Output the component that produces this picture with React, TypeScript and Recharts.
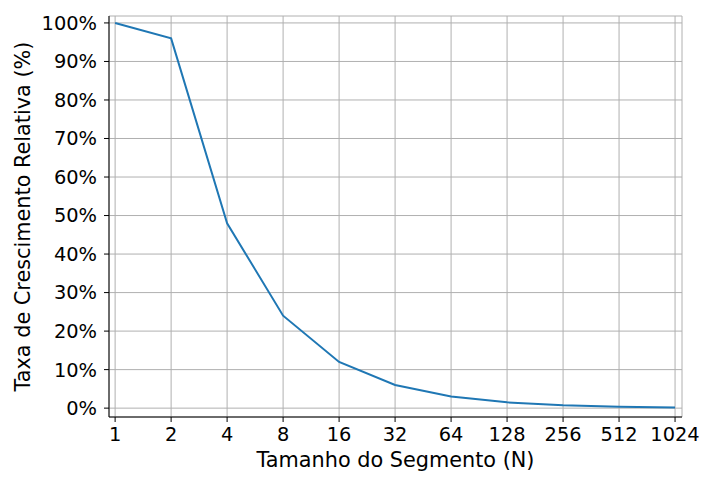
import { LineChart, Line, XAxis, YAxis, CartesianGrid } from "recharts";

// segment sizes (N) and relative growth rate in %
const sizes = [1, 2, 4, 8, 16, 32, 64, 128, 256, 512, 1024];
const growth = [100, 96, 48, 24, 12, 6, 3, 1.5, 0.75, 0.375, 0.19];
const yTicks = [0, 10, 20, 30, 40, 50, 60, 70, 80, 90, 100];

const FONT = "'DejaVu Sans', sans-serif";
const tickStyle = { fontSize: 19.4, fill: "#000", fontFamily: FONT };

const data = sizes.map((n, i) => ({ n, value: growth[i] }));

const XLabel = (props: any) => {
  const vb = props.viewBox;
  return (
    <text x={vb.x + vb.width / 2} y={vb.y + 50} textAnchor="middle" fontSize={20.8} fontFamily={FONT} fill="#000">
      Tamanho do Segmento (N)
    </text>
  );
};

const YLabel = (props: any) => {
  const vb = props.viewBox;
  const cx = vb.x + 22.5;
  const cy = vb.y + vb.height / 2;
  return (
    <text x={cx} y={cy} transform={`rotate(-90, ${cx}, ${cy})`} textAnchor="middle" dominantBaseline="central" fontSize={20.8} fontFamily={FONT} fill="#000">
      Taxa de Crescimento Relativa (%)
    </text>
  );
};

export default function App() {
  return (
    <div style={{ position: "absolute", left: 0, top: 0, background: "#fff" }}>
      <LineChart width={702} height={480} data={data} margin={{ top: 16, right: 20, bottom: 0, left: 0 }}>
        <CartesianGrid stroke="#b0b0b0" strokeWidth={1} />
        <XAxis
          dataKey="n"
          type="number"
          scale="log"
          domain={[0.927, 1116]}
          allowDataOverflow
          ticks={sizes}
          interval={0}
          height={63}
          tickSize={5}
          tickMargin={5}
          tick={tickStyle}
          tickLine={{ stroke: "#000" }}
          axisLine={{ stroke: "#000" }}
          label={<XLabel />}
        />
        <XAxis xAxisId="top" orientation="top" dataKey="n" type="number" scale="log" domain={[0.927, 1116]} allowDataOverflow height={0} tick={false} tickLine={false} axisLine={{ stroke: "#000" }} />
        <YAxis
          type="number"
          domain={[-2.3, 101.8]}
          allowDataOverflow
          ticks={yTicks}
          interval={0}
          width={109}
          tickSize={5}
          tickMargin={7}
          tick={tickStyle}
          tickFormatter={(v: number) => `${v}%`}
          tickLine={{ stroke: "#000" }}
          axisLine={{ stroke: "#000" }}
          label={<YLabel />}
        />
        <YAxis yAxisId="right" orientation="right" type="number" domain={[-2.3, 101.8]} allowDataOverflow width={0} tick={false} tickLine={false} axisLine={{ stroke: "#000" }} />
        <Line type="linear" dataKey="value" stroke="#1f77b4" strokeWidth={2} dot={false} isAnimationActive={false} />
      </LineChart>
    </div>
  );
}
